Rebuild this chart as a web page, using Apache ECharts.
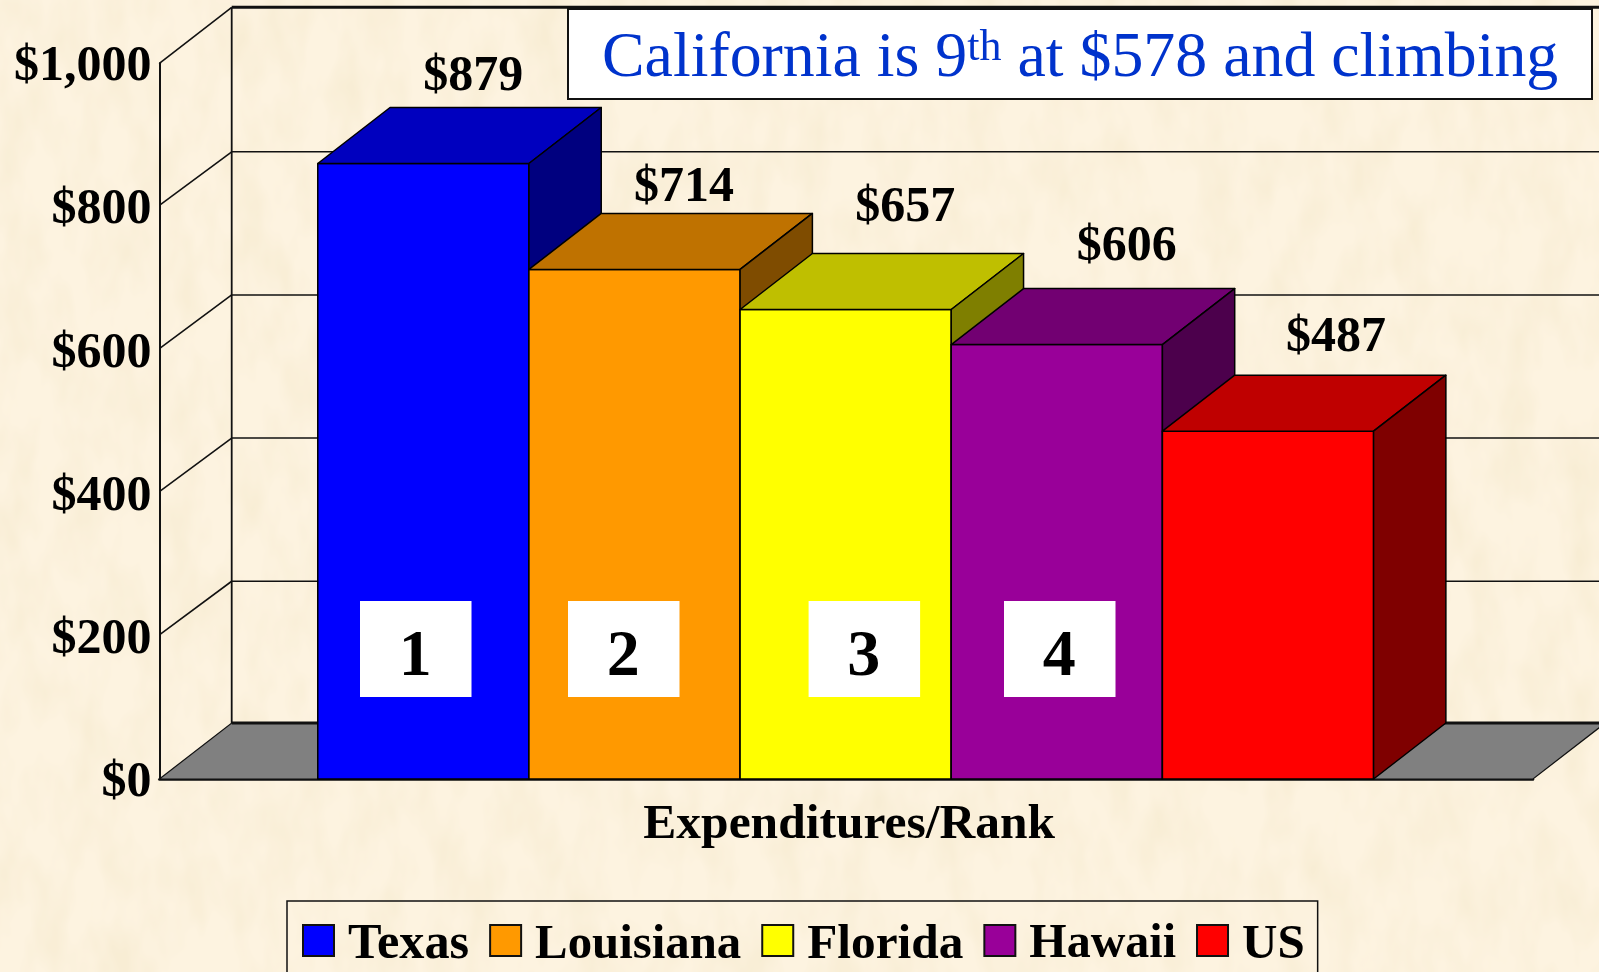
<!DOCTYPE html>
<html>
<head>
<meta charset="utf-8">
<style>
html,body{margin:0;padding:0;width:1599px;height:972px;overflow:hidden;background-color:#FDF3E0;}
body{background-image:url("data:image/svg+xml;utf8,<svg xmlns='http://www.w3.org/2000/svg' width='1599' height='972'><filter id='n' x='0' y='0' width='100%' height='100%'><feTurbulence type='fractalNoise' baseFrequency='0.03 0.014' numOctaves='3' seed='7'/><feColorMatrix type='matrix' values='0 0 0 0 0.86  0 0 0 0 0.76  0 0 0 0 0.52  0.7 0 0 0 -0.26'/></filter><rect width='1599' height='972' filter='url(%23n)'/></svg>");}
#chart{position:absolute;left:0;top:0;width:1599px;height:972px;}
</style>
<script src="https://cdn.jsdelivr.net/npm/echarts@6/dist/echarts.min.js"></script>
</head>
<body>
<div id="chart"></div>
<script>
// ---- data ----
const categories = ['Expenditures/Rank'];
const states = ['Texas', 'Louisiana', 'Florida', 'Hawaii', 'US'];
// heights as drawn in the picture (the Texas column is drawn a little below its printed $879)
const barValues = [860, 712, 656, 607, 486];
const valueLabels = ['$879', '$714', '$657', '$606', '$487'];
const rankLabels = ['1', '2', '3', '4'];
const yTicks = [0, 200, 400, 600, 800, 1000];
const titleBefore = 'California is 9';
const titleSup = 'th';
const titleAfter = ' at $578 and climbing';

// ---- colours ----
const frontColors = ['#0000FF', '#FF9900', '#FFFF00', '#990099', '#FF0000'];
const topColors = ['#0000BF', '#BF7200', '#BFBF00', '#720072', '#BF0000'];
const sideColors = ['#00007F', '#7F4C00', '#7F7F00', '#4C004C', '#7F0000'];

// ---- layout ----
const FONT = '"Liberation Serif","Times New Roman",serif';
const DX = 72.3, DY = 56, WALL_DY = 54.6;
const BANDS = 6.505;
const labelNudgeX = [50, 49.5, 59.5, 70, 68];
const labelNudgeY = [-86, -81.5, -101, -97, -93];
const rankBoxLeft = [360, 568, 808.6, 1004];
const RANK_TOP = 601, RANK_W = 111.5, RANK_H = 96;
const legendFontSizes = [50.3, 48.8, 49.3, 48, 49];

const chart = echarts.init(document.getElementById('chart'), null, {renderer: 'canvas'});

function wallItem(params, api) {
  const cs = params.coordSys;
  const v = api.value(1);
  const y = api.coord([0, v])[1];
  const L = cs.x, R = cs.x + cs.width;
  const kids = [];
  const line = (x1, y1, x2, y2, w) => ({
    type: 'line', shape: {x1, y1, x2, y2},
    style: {stroke: '#111', lineWidth: w, fill: null}
  });
  if (v === 0) {
    kids.push({type: 'polygon', shape: {points: [[L, y], [L + DX, y - DY], [R + DX, y - DY], [R, y]]},
      style: {fill: '#808080', stroke: '#111', lineWidth: 1.2}});
    kids.push(line(L + DX, y - DY, R + DX, y - DY, 3));
    const yt = api.coord([0, yTicks[yTicks.length - 1]])[1];
    kids.push(line(L + DX, y - DY, L + DX, yt - DY, 1.8));
  } else if (v === 1000) {
    kids.push(line(L + DX, y - DY, R + DX, y - DY, 3));
    kids.push(line(L, y, L + DX, y - DY, 1.6));
  } else {
    kids.push(line(L + DX, y - WALL_DY, R + DX, y - WALL_DY, 1.5));
    kids.push(line(L, y - 1, L + DX, y - WALL_DY, 1.6));
  }
  return {type: 'group', children: kids};
}

function barItem(i) {
  return function (params, api) {
    const cs = params.coordSys;
    const w = api.size([1, 0])[0] / BANDS;
    const x0 = cs.x + (0.75 + i) * w, x1 = x0 + w;
    const yTop = api.coord([0, api.value(1)])[1];
    const yBase = api.coord([0, 0])[1];
    const st = {stroke: '#000', lineWidth: 1.5, lineJoin: 'round'};
    return {type: 'group', children: [
      {type: 'polygon', shape: {points: [[x0, yBase], [x0, yTop], [x1, yTop], [x1, yBase]]},
        style: Object.assign({fill: frontColors[i]}, st)},
      {type: 'polygon', shape: {points: [[x0, yTop], [x0 + DX, yTop - DY], [x1 + DX, yTop - DY], [x1, yTop]]},
        style: Object.assign({fill: topColors[i]}, st)},
      {type: 'polygon', shape: {points: [[x1, yTop], [x1 + DX, yTop - DY], [x1 + DX, yBase - DY], [x1, yBase]]},
        style: Object.assign({fill: sideColors[i]}, st)},
      {type: 'text', z2: 50, style: {
        text: valueLabels[i],
        x: (x0 + x1) / 2 + labelNudgeX[i], y: yTop + labelNudgeY[i],
        align: 'center', verticalAlign: 'middle',
        fill: '#000', font: 'bold 50px ' + FONT
      }}
    ]};
  };
}

const legendRich = {};
states.forEach(function (name, i) {
  legendRich['s' + i] = {
    fontFamily: FONT, fontWeight: 'bold', fontSize: legendFontSizes[i], color: '#000',
    padding: [9, 0, 0, 9]
  };
});

const option = {
  animation: false,
  backgroundColor: 'transparent',
  title: {
    left: 568, top: 9,
    padding: [17, 34, 8, 34],
    backgroundColor: '#fff', borderColor: '#111', borderWidth: 2,
    text: '{a|' + titleBefore + '}{b|' + titleSup + '}{a|' + titleAfter + '}',
    textStyle: {
      fontWeight: 'normal',
      rich: {
        a: {fontFamily: FONT, fontWeight: 'normal', fontSize: 63.85, color: '#0033CC', lineHeight: 67},
        b: {fontFamily: FONT, fontWeight: 'normal', fontSize: 44, color: '#0033CC', verticalAlign: 'top', lineHeight: 46}
      }
    }
  },
  legend: {
    data: states,
    left: 287, top: 901,
    orient: 'horizontal',
    padding: [19, 13, 50, 15],
    itemWidth: 31, itemHeight: 31, itemGap: 20,
    borderColor: '#111', borderWidth: 1.5,
    icon: 'rect',
    formatter: function (name) { return '{s' + states.indexOf(name) + '|' + name + '}'; },
    textStyle: {fontFamily: FONT, fontWeight: 'bold', fontSize: 49, color: '#000', rich: legendRich}
  },
  grid: {left: 159.4, right: 66, top: 63.3, bottom: 193, containLabel: false},
  xAxis: {
    type: 'category', data: categories,
    axisLine: {show: true, lineStyle: {color: '#111', width: 2.5}},
    axisTick: {show: false},
    axisLabel: {color: '#000', fontFamily: FONT, fontWeight: 'bold', fontSize: 49.5, margin: 21, padding: [0, 0, 0, 6]}
  },
  yAxis: {
    type: 'value', min: 0, max: 1000, interval: 200,
    axisLine: {show: true, lineStyle: {color: '#111', width: 2}},
    axisTick: {show: false},
    splitLine: {show: false},
    axisLabel: {
      color: '#000', fontFamily: FONT, fontWeight: 'bold', fontSize: 50, margin: 8,
      verticalAlign: 'top', lineHeight: 8,
      formatter: function (v) { return '$' + (v >= 1000 ? Math.floor(v / 1000) + ',' + String(v % 1000).padStart(3, '0') : v); }
    }
  },
  graphic: {elements: rankLabels.map(function (t, i) {
    return {
      type: 'group', left: rankBoxLeft[i], top: RANK_TOP,
      children: [
        {type: 'rect', z: 100, shape: {x: 0, y: 0, width: RANK_W, height: RANK_H}, style: {fill: '#fff'}},
        {type: 'text', z: 101, style: {text: t, x: RANK_W / 2 - 0.5, y: RANK_H / 2 + 8.5, align: 'center', verticalAlign: 'middle',
          fill: '#000', font: 'bold 66px ' + FONT}}
      ]
    };
  })},
  series: [{
    type: 'custom', name: 'walls', silent: true, z: 1,
    coordinateSystem: 'cartesian2d',
    data: yTicks.map(function (v) { return [0, v]; }),
    encode: {x: 0, y: 1},
    renderItem: wallItem
  }].concat(states.map(function (name, i) {
    return {
      type: 'custom', name: name, silent: true, z: 2 + i,
      coordinateSystem: 'cartesian2d',
      itemStyle: {color: frontColors[i], borderColor: '#111', borderWidth: 1.5},
      data: [[0, barValues[i]]],
      encode: {x: 0, y: 1},
      renderItem: barItem(i)
    };
  }))
};
chart.setOption(option);
</script>
</body>
</html>
